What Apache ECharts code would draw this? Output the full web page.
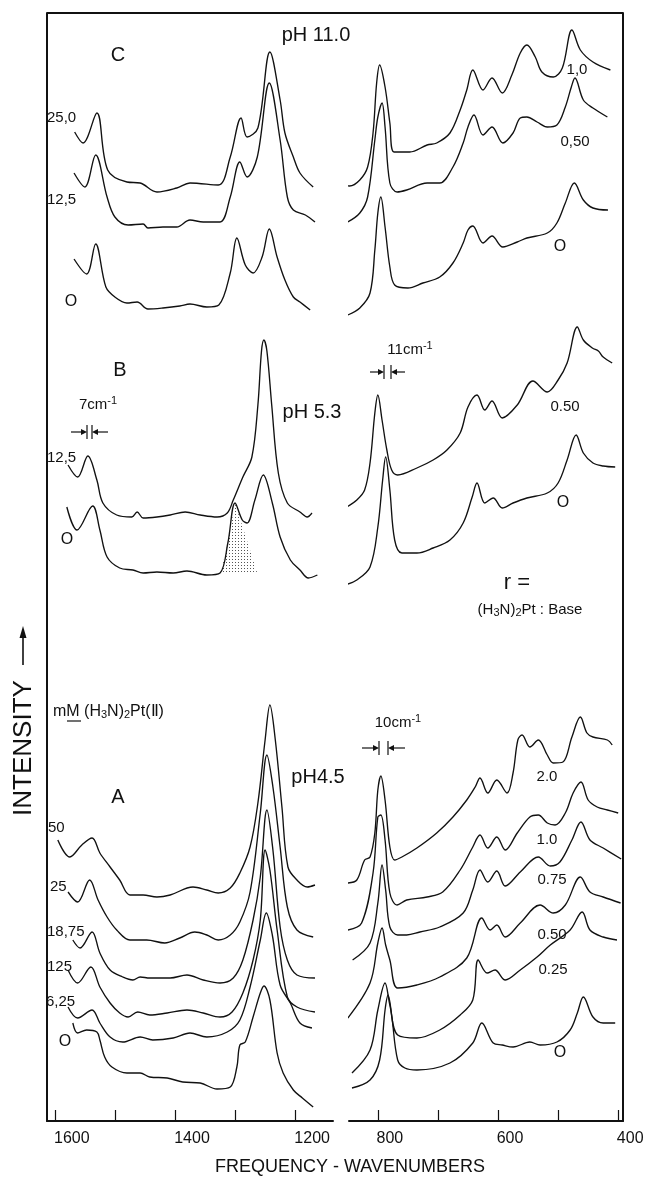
<!DOCTYPE html>
<html>
<head>
<meta charset="utf-8">
<script src="https://cdn.jsdelivr.net/npm/echarts@6/dist/echarts.min.js"></script>
<style>
  html, body { margin: 0; padding: 0; background: #fff; }
  #chart { width: 649px; height: 1177px; }
</style>
</head>
<body>
<div id="chart"></div>
<script>
// Raman spectra, [wavenumber, intensity] in arbitrary stacked units (height above the axis)
// --- C : pH 11.0 ---
const C_HI_25 = [[1567,989],[1553,978],[1530,1008],[1512,951],[1480,939],[1458,938],[1430,929],[1397,933],[1375,938],[1328,936],[1308,964],[1290,1003],[1280,984],[1262,993],[1242,1069],[1225,1021],[1217,988],[1203,964],[1192,948],[1170,934]];
const C_HI_12 = [[1568,948],[1550,934],[1532,966],[1513,924],[1500,904],[1478,896],[1453,897],[1445,893],[1420,894],[1397,894],[1375,901],[1353,899],[1325,899],[1308,924],[1292,959],[1280,944],[1263,964],[1243,1038],[1225,981],[1213,924],[1203,911],[1183,906],[1167,899]];
const C_HI_0 = [[1568,862],[1547,847],[1532,877],[1515,834],[1500,824],[1480,818],[1463,819],[1445,812],[1420,813],[1392,815],[1375,817],[1347,814],[1327,816],[1308,848],[1297,883],[1283,856],[1270,848],[1255,864],[1243,892],[1230,864],[1217,841],[1203,824],[1192,819],[1175,811]];
const C_LO_10 = [[863,938],[847,935],[830,941],[817,954],[808,988],[802,1038],[797,1056],[788,1034],[780,998],[773,969],[747,969],[718,976],[702,978],[680,988],[663,1011],[652,1031],[642,1051],[625,1031],[610,1043],[593,1028],[577,1046],[563,1068],[552,1076],[538,1064],[527,1049],[508,1044],[493,1053],[477,1091],[463,1071],[442,1059],[413,1051]];
const C_LO_05 = [[850,899],[830,908],[817,924],[805,981],[800,1004],[793,1018],[788,994],[780,938],[768,929],[752,931],[718,938],[697,938],[675,954],[658,978],[650,994],[640,1006],[625,986],[610,994],[592,978],[575,988],[563,1003],[552,1004],[535,999],[518,994],[502,996],[488,1014],[478,1034],[472,1043],[458,1021],[442,1013],[418,1004]];
const C_LO_0 = [[850,806],[830,813],[813,828],[805,871],[800,908],[795,924],[788,894],[780,854],[772,836],[750,833],[725,838],[697,844],[675,858],[658,878],[650,891],[642,895],[625,878],[610,885],[592,874],[568,879],[552,883],[518,888],[502,898],[488,918],[473,938],[458,921],[442,913],[417,911]];
// --- B : pH 5.3 ---
const B_HI_12 = [[1578,656],[1562,644],[1545,665],[1530,641],[1520,618],[1497,606],[1472,604],[1463,609],[1453,603],[1430,604],[1408,606],[1383,609],[1358,606],[1330,604],[1313,608],[1303,621],[1287,644],[1272,664],[1262,716],[1256,770],[1252,781],[1247,770],[1239,716],[1228,648],[1213,618],[1192,609],[1180,604],[1172,608]];
const B_HI_0 = [[1580,614],[1563,591],[1537,615],[1525,591],[1513,564],[1492,553],[1470,551],[1453,548],[1430,549],[1403,548],[1380,550],[1347,546],[1325,548],[1312,578],[1300,618],[1288,601],[1280,598],[1267,621],[1253,646],[1238,618],[1225,584],[1208,561],[1192,551],[1178,543],[1163,546]];
const B_BAND = [[1324,548],[1312,578],[1300,618],[1263,548]];
const B_LO_05 = [[852,614],[835,621],[822,631],[813,658],[805,708],[800,726],[793,701],[785,671],[777,651],[767,646],[735,653],[708,661],[685,671],[663,688],[650,714],[635,726],[622,711],[610,720],[593,703],[568,716],[542,740],[518,729],[500,741],[485,758],[468,794],[458,781],[443,773],[433,770],[425,764],[410,758]];
const B_LO_0 = [[855,536],[835,541],[813,554],[800,594],[792,641],[787,664],[780,631],[772,581],[760,568],[735,568],[708,573],[680,581],[658,598],[643,624],[635,638],[622,618],[608,623],[593,613],[575,618],[552,623],[518,628],[500,638],[485,661],[470,686],[458,668],[442,658],[425,655],[405,654]];
// --- A : pH 4.5 ---
const A_HI_50 = [[1595,281],[1575,264],[1555,276],[1538,283],[1525,268],[1508,254],[1492,241],[1475,226],[1453,226],[1430,224],[1408,226],[1370,234],[1347,231],[1328,228],[1308,233],[1292,248],[1275,274],[1262,318],[1250,381],[1242,416],[1233,381],[1222,314],[1212,254],[1197,241],[1180,234],[1167,236]];
const A_HI_25 = [[1578,229],[1562,219],[1542,241],[1528,221],[1513,204],[1497,191],[1475,181],[1447,181],[1417,178],[1392,183],[1367,189],[1347,186],[1328,181],[1308,186],[1292,199],[1275,229],[1258,308],[1247,366],[1237,334],[1225,274],[1213,214],[1197,191],[1170,184]];
const A_HI_18 = [[1570,181],[1558,173],[1538,189],[1525,168],[1508,151],[1487,144],[1470,141],[1458,144],[1442,143],[1408,143],[1380,146],[1353,141],[1325,138],[1303,143],[1287,161],[1270,201],[1258,244],[1247,311],[1237,271],[1225,194],[1213,161],[1197,146],[1167,143]];
const A_HI_12 = [[1578,151],[1562,138],[1540,154],[1525,134],[1508,118],[1492,108],[1478,104],[1462,109],[1442,106],[1413,108],[1380,111],[1353,108],[1325,104],[1305,109],[1287,128],[1270,161],[1258,201],[1250,271],[1242,251],[1230,191],[1213,124],[1197,114],[1167,109]];
const A_HI_6 = [[1578,114],[1562,103],[1538,111],[1525,98],[1508,84],[1487,79],[1458,84],[1437,81],[1403,83],[1375,88],[1347,84],[1313,89],[1292,101],[1275,134],[1258,181],[1248,208],[1238,186],[1225,136],[1208,118],[1192,98],[1172,93]];
const A_HI_0 = [[1570,98],[1562,88],[1547,91],[1530,89],[1525,81],[1517,64],[1505,54],[1480,48],[1458,48],[1442,44],[1413,43],[1387,39],[1358,38],[1330,32],[1308,34],[1297,54],[1292,76],[1283,79],[1270,104],[1258,128],[1252,135],[1242,121],[1230,68],[1220,48],[1203,31],[1188,23],[1170,14]];
const A_LO_20 = [[850,238],[835,241],[822,261],[813,264],[805,288],[800,331],[795,345],[788,321],[780,274],[772,261],[760,264],[735,273],[702,288],[675,304],[652,321],[638,334],[630,343],[617,328],[602,341],[585,328],[575,348],[567,381],[560,386],[547,374],[533,381],[518,366],[508,358],[492,359],[477,384],[463,404],[452,388],[442,384],[418,381],[410,376]];
const A_LO_10 = [[850,191],[827,198],[808,248],[800,304],[795,306],[788,281],[780,228],[768,216],[752,221],[718,224],[692,229],[663,251],[642,274],[630,286],[617,273],[602,284],[588,271],[568,288],[547,304],[533,306],[518,298],[505,296],[488,308],[475,328],[462,339],[450,321],[435,314],[418,311],[400,308]];
const A_LO_075 = [[842,161],[813,178],[800,218],[793,256],[787,231],[780,194],[767,186],[752,186],[730,189],[697,194],[658,208],[642,231],[630,251],[617,239],[602,250],[588,235],[563,249],[533,264],[513,255],[497,259],[477,281],[462,299],[447,281],[425,273],[395,262]];
const A_LO_05 = [[850,103],[813,138],[800,178],[793,193],[787,176],[780,161],[767,133],[735,136],[697,144],[652,163],[627,203],[613,191],[602,196],[588,184],[563,198],[530,216],[508,208],[488,216],[463,244],[447,229],[425,224],[396,218]];
const A_LO_025 = [[843,48],[813,71],[800,111],[788,138],[780,116],[767,86],[735,83],[697,91],[663,106],[642,121],[633,161],[618,148],[605,151],[588,141],[563,151],[535,164],[513,176],[480,191],[460,209],[447,191],[425,184],[402,181]];
const A_LO_0 = [[843,33],[813,41],[797,61],[788,111],[783,126],[777,106],[767,61],[755,53],[735,51],[680,58],[642,78],[627,98],[608,78],[593,76],[575,74],[547,79],[530,76],[502,79],[480,91],[468,108],[458,124],[442,104],[425,98],[405,98]];

// axis ticks and labels (cm-1)
const HI_TICKS = [1600, 1500, 1400, 1300, 1200];
const HI_LABELS = [1600, 1400, 1200];
const LO_TICKS = [800, 700, 600, 500, 400];
const LO_LABELS = [800, 600, 400];

const FONT = 'Liberation Sans';
const INK = '#111';

const leftSpectra = [C_HI_25, C_HI_12, C_HI_0, B_HI_12, B_HI_0, A_HI_50, A_HI_25, A_HI_18, A_HI_12, A_HI_6, A_HI_0];
const rightSpectra = [C_LO_10, C_LO_05, C_LO_0, B_LO_05, B_LO_0, A_LO_20, A_LO_10, A_LO_075, A_LO_05, A_LO_025, A_LO_0];

function dotPattern() {
  const c = document.createElement('canvas');
  c.width = 3; c.height = 3;
  const g = c.getContext('2d');
  g.fillStyle = '#fff';
  g.fillRect(0, 0, 3, 3);
  g.fillStyle = '#555';
  g.fillRect(1, 1, 1, 1);
  return c;
}

function spectrum(data, axis) {
  return {
    type: 'line', xAxisIndex: axis, yAxisIndex: axis, data: data,
    smooth: 0.35, showSymbol: false, clip: false, silent: true,
    lineStyle: { color: INK, width: 1.35 }
  };
}

function xAxisFor(idx, min, max, ticks, labels, shift) {
  return {
    type: 'value', gridIndex: idx, min: min, max: max, inverse: true,
    axisLine: { lineStyle: { color: INK, width: 2 } },
    axisTick: { inside: true, length: 11, customValues: ticks, lineStyle: { color: INK, width: 1.2 } },
    axisLabel: {
      customValues: labels, color: INK, fontFamily: FONT, fontSize: 16, margin: 10,
      padding: [0, 0, 0, shift], formatter: v => String(v)
    },
    splitLine: { show: false }
  };
}

function yAxisFor(idx, pos) {
  return {
    type: 'value', gridIndex: idx, min: 0, max: 1108, position: pos,
    axisLine: { show: true, lineStyle: { color: INK, width: 2 } },
    axisTick: { show: false }, axisLabel: { show: false }, splitLine: { show: false }
  };
}

function txt(text, x, y, size, align) {
  return {
    type: 'text', silent: true,
    style: {
      text: text, x: x, y: y, fill: INK, fontFamily: FONT, fontSize: size,
      textAlign: align || 'center', textVerticalAlign: 'middle'
    }
  };
}

function richTxt(text, x, y, size, align, rich) {
  const t = txt(text, x, y, size, align);
  t.style.rich = rich;
  return t;
}

function seg(x1, y1, x2, y2, w) {
  return { type: 'line', silent: true, shape: { x1: x1, y1: y1, x2: x2, y2: y2 }, style: { stroke: INK, lineWidth: w || 1.2 } };
}

function tri(points) {
  return { type: 'polygon', silent: true, shape: { points: points }, style: { fill: INK } };
}

// "->||<-" shift marker
function shiftMarker(xa, xb, y, reach) {
  return [
    seg(xa - reach, y, xa - 4, y), tri([[xa, y], [xa - 6, y - 3], [xa - 6, y + 3]]),
    seg(xa, y - 7, xa, y + 7),
    seg(xb, y - 7, xb, y + 7),
    seg(xb + 4, y, xb + reach, y), tri([[xb, y], [xb + 6, y - 3], [xb + 6, y + 3]])
  ];
}

const chart = echarts.init(document.getElementById('chart'), null, { renderer: 'canvas' });

const series = leftSpectra.map(d => spectrum(d, 0)).concat(rightSpectra.map(d => spectrum(d, 1)));
series.push({
  type: 'line', xAxisIndex: 0, yAxisIndex: 0, data: B_BAND, showSymbol: false, silent: true,
  lineStyle: { width: 0 },
  areaStyle: { origin: 548, color: { image: dotPattern(), repeat: 'repeat' }, opacity: 1 }
});

const sub = { fontSize: 11, fontFamily: FONT, fill: INK, verticalAlign: 'bottom', padding: [6, 0, 0, 0] };
const sup = { fontSize: 11, fontFamily: FONT, fill: INK, padding: [0, 0, 8, 0] };
const base = { fontSize: 15, fontFamily: FONT, fill: INK };
const cm = { b: base, s: sup };

const intensity = txt('INTENSITY', 0, 0, 26);
intensity.x = 24; intensity.y = 748; intensity.rotation = Math.PI / 2;

const graphic = [
  seg(47, 13, 623, 13, 2),
  // panel C
  txt('pH 11.0', 316, 35, 20), txt('C', 118, 55, 20),
  txt('25,0', 47, 118, 15, 'left'), txt('12,5', 47, 200, 15, 'left'), txt('O', 71, 302, 16),
  txt('1,0', 577, 70, 15), txt('0,50', 575, 142, 15), txt('O', 560, 247, 16),
  // panel B
  txt('B', 120, 370, 20), txt('pH 5.3', 312, 412, 20),
  richTxt('{b|7cm}{s|-1}', 98, 405, 15, 'center', cm),
  txt('12,5', 47, 458, 15, 'left'), txt('O', 67, 540, 16),
  richTxt('{b|11cm}{s|-1}', 410, 350, 15, 'center', cm),
  txt('0.50', 565, 407, 15), txt('O', 563, 503, 16),
  txt('r =', 517, 583, 22),
  richTxt('(H{s|3}N){s|2}Pt : Base', 530, 610, 15, 'center', { s: sub }),
  // panel A
  richTxt('mM (H{s|3}N){s|2}Pt(\u2161)', 53, 712, 16, 'left', { s: sub }),
  seg(67, 721, 81, 721, 1.2),
  txt('A', 118, 797, 20), txt('pH4.5', 318, 777, 20),
  richTxt('{b|10cm}{s|-1}', 398, 723, 15, 'center', cm),
  txt('50', 48, 828, 15, 'left'), txt('25', 50, 887, 15, 'left'), txt('18,75', 47, 932, 15, 'left'),
  txt('125', 47, 967, 15, 'left'), txt('6,25', 46, 1002, 15, 'left'), txt('O', 65, 1042, 16),
  txt('2.0', 547, 777, 15), txt('1.0', 547, 840, 15), txt('0.75', 552, 880, 15),
  txt('0.50', 552, 935, 15), txt('0.25', 553, 970, 15), txt('O', 560, 1053, 16),
  // axis titles
  intensity,
  seg(23, 665, 23, 636, 1.6), tri([[23, 626], [19.5, 638], [26.5, 638]]),
  txt('FREQUENCY - WAVENUMBERS', 350, 1167, 18)
].concat(shiftMarker(87, 92, 432, 16), shiftMarker(384, 391, 372, 14), shiftMarker(379, 388, 748, 17));

chart.setOption({
  animation: false,
  backgroundColor: '#fff',
  grid: [
    { left: 47, top: 13, width: 286, bottom: 56 },
    { left: 349, top: 13, width: 274, bottom: 56 }
  ],
  xAxis: [
    xAxisFor(0, 1137, 1613, HI_TICKS, HI_LABELS, 34),
    xAxisFor(1, 392, 848, LO_TICKS, LO_LABELS, 24)
  ],
  yAxis: [yAxisFor(0, 'left'), yAxisFor(1, 'right')],
  series: series,
  graphic: graphic
});
window.addEventListener('resize', () => chart.resize());
</script>
</body>
</html>
